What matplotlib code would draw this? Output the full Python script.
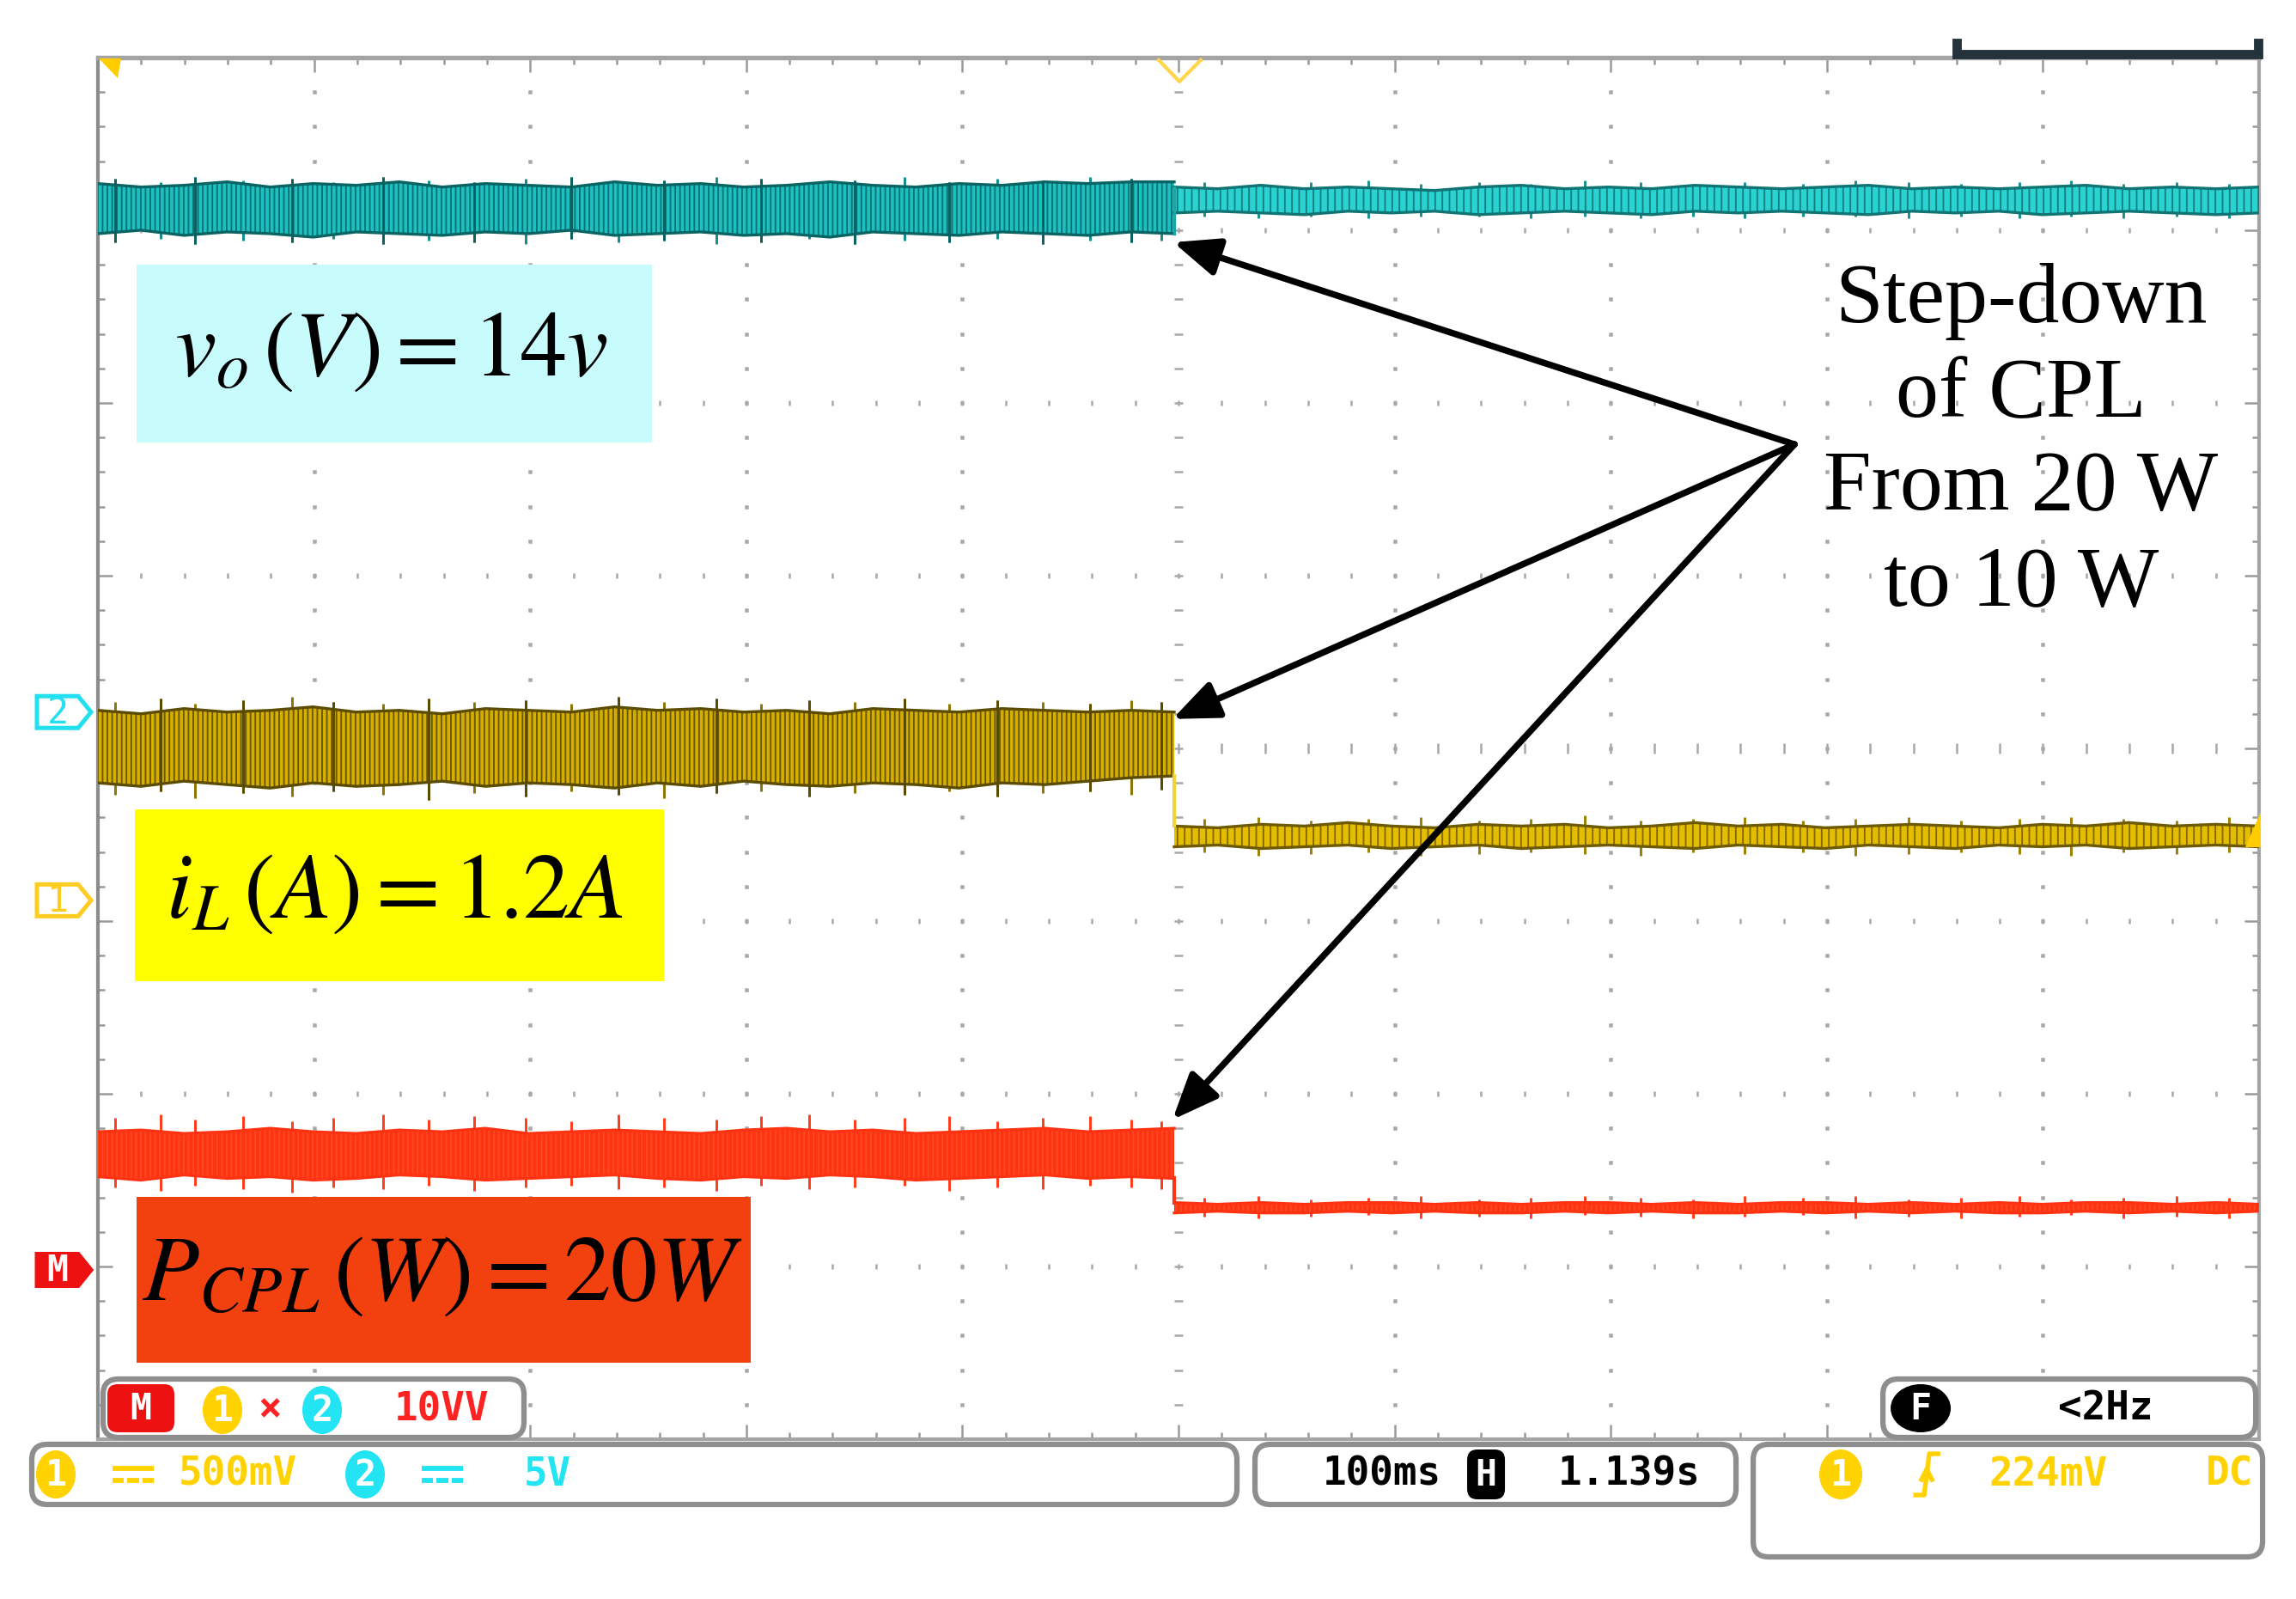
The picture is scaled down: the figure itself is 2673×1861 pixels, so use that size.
import numpy as np
import matplotlib
matplotlib.use('Agg')
import matplotlib.pyplot as plt
from matplotlib.patches import Rectangle, FancyBboxPatch, Polygon, Ellipse

# ---- scope capture: 100 ms/div, 10 div wide, 8 div high, centre = trigger
t_step = -2.0   # ms, instant of the CPL step 20 W -> 10 W
t_pre = np.linspace(-500, t_step, 26)
t_post = np.linspace(t_step, 500, 26)

# v_o trace (ch2), envelope in divisions
vo_pre_hi = [3.27, 3.25, 3.26, 3.28, 3.25, 3.27, 3.26, 3.28, 3.25, 3.27, 3.26, 3.25, 3.28,
             3.26, 3.27, 3.25, 3.26, 3.28, 3.26, 3.25, 3.27, 3.26, 3.28, 3.27, 3.28, 3.28]
vo_pre_lo = [2.98, 3.00, 2.97, 2.99, 2.98, 2.96, 2.99, 2.98, 2.97, 2.99, 2.98, 3.00, 2.97,
             2.98, 2.99, 2.97, 2.98, 2.96, 2.99, 2.98, 2.97, 2.99, 2.98, 2.97, 2.99, 2.98]
vo_post_hi = [3.25, 3.24, 3.26, 3.24, 3.25, 3.24, 3.23, 3.25, 3.26, 3.24, 3.25, 3.24, 3.26,
              3.25, 3.24, 3.25, 3.26, 3.24, 3.25, 3.24, 3.25, 3.26, 3.24, 3.25, 3.24, 3.25]
vo_post_lo = [3.10, 3.11, 3.10, 3.09, 3.11, 3.10, 3.11, 3.09, 3.10, 3.11, 3.10, 3.09, 3.11,
              3.10, 3.11, 3.10, 3.09, 3.11, 3.10, 3.11, 3.09, 3.10, 3.11, 3.10, 3.09, 3.10]

# i_L trace (ch1)
il_pre_hi = [0.22, 0.20, 0.23, 0.21, 0.22, 0.24, 0.21, 0.22, 0.20, 0.23, 0.22, 0.21, 0.24,
             0.22, 0.23, 0.21, 0.22, 0.20, 0.23, 0.22, 0.21, 0.23, 0.22, 0.21, 0.22, 0.21]
il_pre_lo = [-0.20, -0.22, -0.19, -0.21, -0.23, -0.20, -0.22, -0.21, -0.19, -0.22, -0.20, -0.21, -0.23,
             -0.20, -0.22, -0.19, -0.21, -0.22, -0.20, -0.21, -0.23, -0.20, -0.21, -0.19, -0.17, -0.16]
il_post_hi = [-0.45, -0.46, -0.44, -0.45, -0.43, -0.45, -0.46, -0.44, -0.45, -0.44, -0.46, -0.45, -0.43,
              -0.45, -0.44, -0.46, -0.45, -0.44, -0.45, -0.46, -0.44, -0.45, -0.43, -0.45, -0.44, -0.45]
il_post_lo = [-0.57, -0.56, -0.58, -0.57, -0.56, -0.58, -0.57, -0.56, -0.58, -0.57, -0.56, -0.57, -0.58,
              -0.56, -0.57, -0.58, -0.56, -0.57, -0.58, -0.56, -0.57, -0.56, -0.58, -0.57, -0.56, -0.57]

# P_CPL trace (math channel M)
pc_pre_hi = [-2.22, -2.21, -2.23, -2.22, -2.20, -2.22, -2.23, -2.21, -2.22, -2.20, -2.23, -2.22, -2.21,
             -2.22, -2.23, -2.21, -2.20, -2.22, -2.21, -2.23, -2.22, -2.21, -2.20, -2.22, -2.21, -2.20]
pc_pre_lo = [-2.48, -2.50, -2.47, -2.49, -2.48, -2.50, -2.49, -2.47, -2.48, -2.50, -2.49, -2.48, -2.47,
             -2.49, -2.50, -2.48, -2.49, -2.47, -2.48, -2.50, -2.49, -2.48, -2.47, -2.49, -2.48, -2.49]
pc_post_hi = [-2.63, -2.64, -2.63, -2.64, -2.63, -2.63, -2.64, -2.63, -2.64, -2.63, -2.63, -2.64, -2.63,
              -2.64, -2.63, -2.63, -2.64, -2.63, -2.64, -2.63, -2.64, -2.63, -2.63, -2.64, -2.63, -2.64]
pc_post_lo = [-2.69, -2.68, -2.69, -2.69, -2.68, -2.69, -2.68, -2.69, -2.69, -2.68, -2.69, -2.68, -2.69,
              -2.69, -2.68, -2.69, -2.68, -2.69, -2.68, -2.69, -2.69, -2.68, -2.69, -2.68, -2.69, -2.68]

# noise spikes sticking out of the bands
spk_t_pre = [-492, -471, -455, -433, -410, -391, -368, -347, -326, -302, -281, -259,
             -238, -214, -193, -171, -150, -127, -106, -84, -63, -41, -22, -8]
spk_t_post = [12, 37, 61, 88, 112, 139, 163, 188, 214, 238, 262, 289, 313, 338, 362,
              389, 413, 437, 462, 486]

vo_spk_hi = [3.30, 3.28, 3.31, 3.29, 3.30, 3.28, 3.31, 3.29, 3.28, 3.30, 3.31, 3.28,
             3.29, 3.31, 3.30, 3.28, 3.29, 3.31, 3.28, 3.30, 3.29, 3.31, 3.30, 3.29]
vo_spk_lo = [2.93, 2.95, 2.92, 2.94, 2.93, 2.95, 2.92, 2.94, 2.93, 2.92, 2.95, 2.93,
             2.94, 2.92, 2.93, 2.95, 2.92, 2.94, 2.93, 2.95, 2.92, 2.94, 2.93, 2.94]
vo_spk_post_hi = [3.28, 3.27, 3.28, 3.29, 3.27, 3.28, 3.27, 3.29, 3.28, 3.27,
                  3.28, 3.27, 3.29, 3.28, 3.27, 3.28, 3.29, 3.27, 3.28, 3.27]
vo_spk_post_lo = [3.08, 3.07, 3.08, 3.07, 3.08, 3.08, 3.07, 3.08, 3.07, 3.08,
                  3.07, 3.08, 3.08, 3.07, 3.08, 3.07, 3.08, 3.07, 3.08, 3.07]
il_spk_hi = [0.27, 0.29, 0.26, 0.28, 0.30, 0.27, 0.26, 0.29, 0.27, 0.28, 0.26, 0.30,
             0.27, 0.29, 0.26, 0.28, 0.27, 0.29, 0.26, 0.28, 0.27, 0.26, 0.28, 0.27]
il_spk_lo = [-0.27, -0.25, -0.29, -0.26, -0.28, -0.25, -0.27, -0.30, -0.26, -0.28, -0.25, -0.27,
             -0.29, -0.26, -0.25, -0.28, -0.26, -0.27, -0.25, -0.28, -0.26, -0.25, -0.27, -0.24]
il_spk_post_hi = [-0.41, -0.40, -0.42, -0.41, -0.40, -0.42, -0.41, -0.39, -0.42, -0.41,
                  -0.40, -0.42, -0.41, -0.40, -0.42, -0.41, -0.40, -0.41, -0.42, -0.40]
il_spk_post_lo = [-0.60, -0.62, -0.61, -0.60, -0.62, -0.61, -0.60, -0.61, -0.62, -0.60,
                  -0.61, -0.60, -0.62, -0.61, -0.60, -0.61, -0.62, -0.60, -0.61, -0.60]
pc_spk_hi = [-2.14, -2.12, -2.15, -2.13, -2.16, -2.14, -2.12, -2.15, -2.13, -2.14, -2.16, -2.12,
             -2.14, -2.15, -2.13, -2.12, -2.15, -2.14, -2.13, -2.16, -2.14, -2.13, -2.15, -2.16]
pc_spk_lo = [-2.54, -2.56, -2.53, -2.55, -2.57, -2.54, -2.55, -2.53, -2.56, -2.54, -2.53, -2.55,
             -2.54, -2.56, -2.53, -2.55, -2.54, -2.53, -2.56, -2.54, -2.55, -2.53, -2.54, -2.55]
pc_spk_post_hi = [-2.60, -2.59, -2.61, -2.60, -2.59, -2.61, -2.60, -2.59, -2.60, -2.61,
                  -2.59, -2.60, -2.59, -2.61, -2.60, -2.59, -2.61, -2.60, -2.59, -2.60]
pc_spk_post_lo = [-2.71, -2.72, -2.71, -2.70, -2.72, -2.71, -2.72, -2.70, -2.71, -2.72,
                  -2.71, -2.70, -2.72, -2.71, -2.72, -2.71, -2.70, -2.72, -2.71, -2.72]

# channel ground markers (div) and arrows
ch2_ref = 0.21
ch1_ref = -0.88
math_ref = -3.02
arrow_origin = (285.0, 1.76)
arrow_tips = [(-2.4, 2.93), (-2.8, 0.17), (-2.8, -2.15)]

# labels
vo_label = r'$v_o\,\left(V\right) = 14v$'
il_label = r'$i_L\,\left(A\right) = 1.2A$'
pc_label = r'$P_{CPL}\,\left(W\right) = 20W$'
note_lines = ['Step-down', 'of CPL', 'From 20 W', 'to 10 W']


W, H = 2673, 1861
DPI = 300
plt.rcParams['mathtext.fontset'] = 'stix'
plt.rcParams['hatch.linewidth'] = 0.45
MONO = 'DejaVu Sans Mono'

fig = plt.figure(figsize=(W / DPI + 0.0003, H / DPI + 0.0003), dpi=DPI)
fig.patch.set_facecolor('white')

# graticule frame in pixels
GX0, GX1, GY0, GY1 = 114, 2630, 67, 1675
ax = fig.add_axes([GX0 / W, (H - GY1) / H, (GX1 - GX0) / W, (GY1 - GY0) / H])
ax.set_xlim(-500, 500)
ax.set_ylim(-4, 4)
for s in ax.spines.values():
    s.set_color('#a4a4a4')
    s.set_linewidth(1.0)
ax.spines['top'].set_linewidth(1.3)
ax.spines['left'].set_color('#8c8c8c')
ax.set_xticks(np.arange(-500, 501, 100))
ax.set_xticks(np.arange(-500, 501, 20), minor=True)
ax.set_yticks(np.arange(-4, 5, 1))
ax.set_yticks(np.arange(-4, 4.01, 0.2), minor=True)
ax.tick_params(which='both', direction='in', top=True, right=True,
               labelbottom=False, labelleft=False, color='#9a9a9a')
ax.tick_params(which='major', length=4, width=0.6)
ax.tick_params(which='minor', length=2, width=0.6)

# dotted grid
xm = np.arange(-480, 481, 20)
ym = np.arange(-3.8, 3.81, 0.2)
for yk in range(-3, 4):
    ax.plot(xm, np.full(xm.size, yk), ls='none', marker='|',
            ms=3.0 if yk == 0 else 1.6, mew=0.6, color='#a8a8a8', zorder=1)
for xk in range(-400, 401, 100):
    ax.plot(np.full(ym.size, xk), ym, ls='none', marker='_' if xk == 0 else 's',
            ms=2.6 if xk == 0 else 0.7, mew=0.6, mec='#a8a8a8', mfc='#a8a8a8', zorder=1)


def band(t, hi, lo, face, hatch_col, edge, dens=9):
    plt.rcParams['hatch.color'] = hatch_col
    ax.fill_between(t, lo, hi, facecolor=face, edgecolor=hatch_col,
                    hatch='|' * dens, linewidth=0, zorder=3)
    ax.plot(t, hi, color=edge, lw=0.8, zorder=4)
    ax.plot(t, lo, color=edge, lw=0.8, zorder=4)


def spikes(t, hi, lo, col, z=2):
    ax.vlines(t, lo, hi, color=col, lw=0.7, zorder=z)


# v_o
spikes(spk_t_pre, vo_spk_hi, vo_spk_lo, '#0f8c8c')
spikes(spk_t_post, vo_spk_post_hi, vo_spk_post_lo, '#168f8f')
band(t_pre, vo_pre_hi, vo_pre_lo, '#1cc0c0', '#0a7272', '#0a6464')
band(t_post, vo_post_hi, vo_post_lo, '#2ad2d2', '#138080', '#117474', dens=6)
spikes(spk_t_pre[::2], vo_spk_hi[::2], vo_spk_lo[::2], '#0a6060', z=5)
ax.plot([t_step, t_step], [vo_pre_lo[-1], vo_post_hi[0]], color='#1aa6a6', lw=0.8, zorder=4)

# i_L
spikes(spk_t_pre, il_spk_hi, il_spk_lo, '#8c7400')
spikes(spk_t_post, il_spk_post_hi, il_spk_post_lo, '#9a8000')
band(t_pre, il_pre_hi, il_pre_lo, '#d6ae00', '#6a5800', '#5c4c00')
band(t_post, il_post_hi, il_post_lo, '#e4bc00', '#806a00', '#6e5a00', dens=6)
spikes(spk_t_pre[1::2], il_spk_hi[1::2], il_spk_lo[1::2], '#5a4a00', z=5)
ax.plot([t_step, t_step], [il_pre_lo[-1], il_post_hi[0]], color='#f2d23a', lw=1.0, zorder=4)

# P_CPL
spikes(spk_t_pre, pc_spk_hi, pc_spk_lo, '#ff3a18')
spikes(spk_t_post, pc_spk_post_hi, pc_spk_post_lo, '#ff3a18')
band(t_pre, pc_pre_hi, pc_pre_lo, '#ff3311', '#ff4a24', '#ff3311')
band(t_post, pc_post_hi, pc_post_lo, '#ff3311', '#ff4a24', '#ff3311')
ax.plot([t_step, t_step], [pc_pre_lo[-1], pc_post_hi[0]], color='#ff3311', lw=1.0, zorder=4)

# arrows to the step instants
for tip in arrow_tips:
    ax.annotate('', xy=tip, xytext=arrow_origin, xycoords='data', textcoords='data',
                arrowprops=dict(arrowstyle='-|>,head_length=0.6,head_width=0.25',
                                mutation_scale=18, lw=1.8, color='black',
                                shrinkA=0, shrinkB=0), zorder=8)

# ---- overlay in figure pixels for labels, read-outs and markers
ov = fig.add_axes([0, 0, 1, 1])
ov.set_xlim(0, W)
ov.set_ylim(H, 0)
ov.axis('off')


def to_py(div):
    return GY0 + (4 - div) / 8 * (GY1 - GY0)


# label boxes
ov.add_patch(Rectangle((159, 308), 600, 207, facecolor='#c8fbfb', edgecolor='none', zorder=5))
ov.text(455, 437, vo_label, fontsize=26, ha='center', va='baseline', zorder=6)
ov.add_patch(Rectangle((157, 942), 616, 200, facecolor='#ffff00', edgecolor='none', zorder=5))
ov.text(459, 1068, il_label, fontsize=26, ha='center', va='baseline', zorder=6)
ov.add_patch(Rectangle((159, 1393), 715, 193, facecolor='#f2400f', edgecolor='none', zorder=5))
ov.text(515, 1513, pc_label, fontsize=26, ha='center', va='baseline', zorder=6)

for txt, yb in zip(note_lines, [375, 485, 593, 705]):
    ov.text(2353, yb, txt, fontsize=24, family='Liberation Serif', ha='center',
            va='baseline', zorder=6)


# channel reference markers on the left edge
def chan_marker(div, txt, col, filled):
    yc = to_py(div)
    x0, x1, tip, h = 43, 91, 106, 37
    pts = [(x0, yc - h / 2), (x1, yc - h / 2), (tip, yc), (x1, yc + h / 2), (x0, yc + h / 2)]
    ov.add_patch(Polygon(pts, closed=True, facecolor=col if filled else 'white',
                         edgecolor=col, lw=1.2, zorder=6))
    ov.text((x0 + x1) / 2, yc + 1, txt, color='white' if filled else col, fontsize=10,
            family=MONO, weight='bold' if filled else 'normal',
            ha='center', va='center', zorder=7)


chan_marker(ch2_ref, '2', '#22e0f0', False)
chan_marker(ch1_ref, '1', '#ffcc22', False)
chan_marker(math_ref, 'M', '#ee1111', True)

# top edge markers
ov.add_patch(Polygon([(115, 68), (141, 68), (137, 91)], closed=True,
                     facecolor='#ffcc00', edgecolor='none', zorder=6))
ov.plot([1349, 1373, 1398], [70, 95, 70], color='#ffd54a', lw=1.0, zorder=6)
ov.plot([2278, 2278, 2629, 2629], [50, 63, 63, 50], color='#24323c', lw=2.6,
        solid_joinstyle='miter', zorder=6)
# yellow trigger level arrow at right end of ch1
ov.add_patch(Polygon([(2632, 945), (2632, 986), (2614, 986)], closed=True,
                     facecolor='#ffcc00', edgecolor='none', zorder=6))


# status read-outs
def panel(x0, y0, x1, y1):
    ov.add_patch(FancyBboxPatch((x0, y0), x1 - x0, y1 - y0,
                                boxstyle='round,pad=0,rounding_size=18',
                                facecolor='white', edgecolor='#8e8e8e', lw=1.5, zorder=5))


def badge(x, y, txt, face, w=46, h=56, rect=False, fg='white'):
    if rect:
        ov.add_patch(FancyBboxPatch((x - w / 2, y - h / 2), w, h,
                                    boxstyle='round,pad=0,rounding_size=12',
                                    facecolor=face, edgecolor='none', zorder=6))
    else:
        ov.add_patch(Ellipse((x, y), w, h, facecolor=face, edgecolor='none', zorder=6))
    ov.text(x, y + 1, txt, color=fg, fontsize=10, family=MONO, weight='bold',
            ha='center', va='center', zorder=7)


def readout(x, y, txt, col):
    ov.text(x, y, txt, color=col, fontsize=11, family=MONO, weight='bold',
            ha='center', va='center', zorder=7)


def dc_sign(x, y, col):
    ov.plot([x - 24, x + 24], [y - 7, y - 7], color=col, lw=1.4, solid_capstyle='butt', zorder=7)
    for a, b in [(-24, -11), (-7, 7), (11, 24)]:
        ov.plot([x + a, x + b], [y + 7, y + 7], color=col, lw=1.4, solid_capstyle='butt', zorder=7)


YEL = '#ffd200'
CYA = '#22e4f2'
RED = '#ff2222'

panel(120, 1605, 610, 1673)
badge(164, 1639, 'M', '#ee1111', w=78, h=56, rect=True)
badge(259, 1641, '1', YEL)
readout(314, 1641, '×', RED)
badge(375, 1641, '2', CYA)
readout(514, 1641, '10VV', RED)

panel(37, 1681, 1440, 1751)
badge(65, 1716, '1', YEL)
dc_sign(155, 1716, YEL)
readout(277, 1716, '500mV', YEL)
badge(425, 1716, '2', CYA)
dc_sign(515, 1716, CYA)
readout(637, 1716, '5V', CYA)

panel(1461, 1681, 2021, 1751)
readout(1609, 1716, '100ms', 'black')
badge(1730, 1716, 'H', 'black', w=44, h=58, rect=True)
readout(1897, 1716, '1.139s', 'black')

panel(2192, 1605, 2626, 1673)
badge(2236, 1639, 'F', 'black', w=70, h=56)
readout(2451, 1639, '<2Hz', 'black')

panel(2041, 1681, 2634, 1812)
badge(2143, 1716, '1', YEL, w=50, h=58)
ov.plot([2230, 2240, 2246, 2256], [1740, 1740, 1692, 1692], color=YEL, lw=1.3, zorder=7)
ov.plot([2237, 2243, 2249], [1722, 1710, 1722], color=YEL, lw=1.3, zorder=7)
readout(2384, 1716, '224mV', YEL)
readout(2595, 1716, 'DC', YEL)

fig.savefig('out.png', dpi=DPI)
